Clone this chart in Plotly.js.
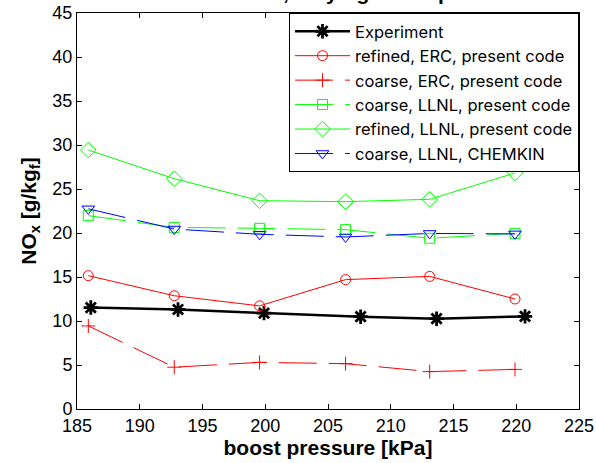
<!DOCTYPE html>
<html>
<head>
<meta charset="utf-8">
<script src="https://cdn.plot.ly/plotly-3.0.1.min.js"></script>
<style>html,body{margin:0;padding:0;background:#fff;}#chart{width:596px;height:463px;}</style>
</head>
<body>
<div id="chart"></div>
<script>
// Data
const expX = [186.1, 193.05, 199.9, 207.6, 213.65, 220.7];
const expY = [11.53, 11.31, 10.9, 10.49, 10.26, 10.52];

const simX = [185.9, 192.75, 199.55, 206.4, 213.1, 219.9];

const refinedErcY = [15.15, 12.87, 11.72, 14.7, 15.07, 12.5];
const coarseErcY = [9.44, 4.75, 5.3, 5.15, 4.25, 4.5];
const coarseLlnlY = [21.97, 20.64, 20.53, 20.38, 19.4, 19.96];
const refinedLlnlY = [29.43, 26.17, 23.67, 23.56, 23.83, 26.82];
const chemkinY = [22.75, 20.45, 19.85, 19.55, 19.95, 19.9];

const xTicks = [185, 190, 195, 200, 205, 210, 215, 220, 225];
const yTicks = [0, 5, 10, 15, 20, 25, 30, 35, 40, 45];

const names = ['Experiment', 'refined, ERC, present code', 'coarse, ERC, present code',
  'coarse, LLNL, present code', 'refined, LLNL, present code', 'coarse, LLNL, CHEMKIN'];

const DASH = '38px,12px';
const RED = '#ff0000', GREEN = '#00ff00', BLUE = '#0000ff';

const traces = [
  {x: expX, y: expY, name: names[0], mode: 'lines+markers',
   line: {color: '#000', width: 2.5},
   marker: {symbol: 'asterisk-open', size: 12, color: '#000', line: {color: '#000', width: 2.8}}},
  {x: simX, y: refinedErcY, name: names[1], mode: 'lines+markers',
   line: {color: RED, width: 1},
   marker: {symbol: 'circle-open', size: 10, color: RED, line: {color: RED, width: 1}}},
  {x: simX, y: coarseErcY, name: names[2], mode: 'lines+markers',
   line: {color: RED, width: 1, dash: DASH},
   marker: {symbol: 'cross-thin-open', size: 10, color: RED, line: {color: RED, width: 1}}},
  {x: simX, y: coarseLlnlY, name: names[3], mode: 'lines+markers',
   line: {color: GREEN, width: 1, dash: DASH},
   marker: {symbol: 'square-open', size: 10, color: GREEN, line: {color: GREEN, width: 1}}},
  {x: simX, y: refinedLlnlY, name: names[4], mode: 'lines+markers',
   line: {color: GREEN, width: 1},
   marker: {symbol: 'diamond-open', size: 12, color: GREEN, line: {color: GREEN, width: 1}}},
  {x: simX, y: chemkinY, name: names[5], mode: 'lines+markers',
   line: {color: BLUE, width: 1, dash: DASH},
   marker: {symbol: 'triangle-down-open', size: 11, color: BLUE, line: {color: BLUE, width: 1}}}
];

const FONT = 'Liberation Sans, Arial, sans-serif';

const layout = {
  width: 596, height: 463,
  margin: {l: 77, r: 17, t: 13, b: 54, pad: 0},
  paper_bgcolor: '#fff', plot_bgcolor: '#fff',
  font: {family: FONT, size: 18, color: '#000'},
  title: {text: 'NOx emissions, varying boost pressure',
          font: {size: 21, family: FONT, weight: 'bold', color: '#000'},
          x: 0.552, xanchor: 'center', y: 1, yref: 'container', yanchor: 'bottom', pad: {t: 0, b: 0}},
  xaxis: {range: [185, 225], tickvals: xTicks, ticktext: xTicks.map(String),
          ticks: 'inside', ticklen: 5, tickcolor: '#000', showline: true, linecolor: '#000', linewidth: 1,
          mirror: 'ticks', showgrid: false, zeroline: false, ticklabeloverflow: 'allow',
          tickfont: {size: 18},
          title: {text: '<b>boost pressure [kPa]</b>', font: {size: 21}, standoff: 2}},
  yaxis: {range: [0, 45], tickvals: yTicks, ticktext: yTicks.map(String),
          ticks: 'inside', ticklen: 5, tickcolor: '#000', showline: true, linecolor: '#000', linewidth: 1,
          mirror: 'ticks', showgrid: false, zeroline: false,
          tickfont: {size: 18},
          title: {text: '<b>NO<sub>x</sub> [g/kg<sub>f</sub>]</b>', font: {size: 21}, standoff: 10}},
  showlegend: true,
  legend: {x: 1, xanchor: 'right', y: 1, yanchor: 'top', bgcolor: '#fff', bordercolor: '#000', borderwidth: 1,
           font: {size: 16.5, family: 'Inter, Liberation Sans, sans-serif'}, tracegroupgap: 0, itemwidth: 55},
};

Plotly.newPlot('chart', traces, layout, {staticPlot: true, displayModeBar: false});
</script>
</body>
</html>
